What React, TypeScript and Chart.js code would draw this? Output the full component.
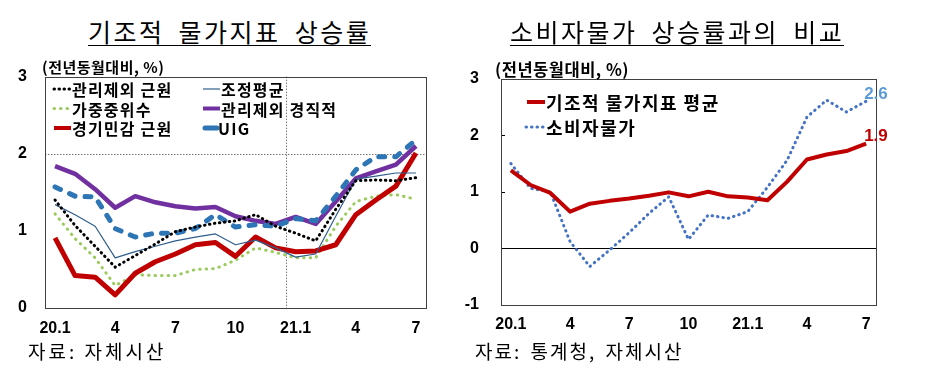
import React, { useEffect, useRef } from 'react';
import { Chart, registerables } from 'chart.js';

Chart.register(...registerables);

// ---------- data ----------
const months = ['20.1','20.2','20.3','20.4','20.5','20.6','20.7','20.8','20.9','20.10','20.11','20.12','21.1','21.2','21.3','21.4','21.5','21.6','21.7'];
const tickLabels = ['20.1','','','4','','','7','','','10','','','21.1','','','4','','','7'];

const exAdminCore = [1.40, 1.07, 0.80, 0.53, 0.68, 0.83, 0.99, 1.05, 1.10, 1.13, 1.21, 1.06, 0.97, 0.87, 1.28, 1.65, 1.66, 1.65, 1.69];
const trimmedMean = [1.34, 1.21, 1.06, 0.65, 0.73, 0.80, 0.87, 0.92, 0.96, 0.82, 0.88, 0.78, 0.66, 0.70, 1.19, 1.67, 1.71, 1.75, 1.75];
const weightedMedian = [1.22, 0.90, 0.65, 0.29, 0.43, 0.42, 0.42, 0.50, 0.51, 0.62, 0.78, 0.72, 0.65, 0.65, 1.06, 1.38, 1.45, 1.47, 1.41];
const exAdminSticky = [1.84, 1.74, 1.54, 1.30, 1.45, 1.37, 1.32, 1.29, 1.31, 1.19, 1.13, 1.09, 1.18, 1.09, 1.38, 1.68, 1.77, 1.86, 2.10];
const cyclicalCore = [0.91, 0.42, 0.40, 0.17, 0.45, 0.60, 0.70, 0.82, 0.85, 0.67, 0.92, 0.78, 0.73, 0.74, 0.82, 1.21, 1.40, 1.58, 2.01];
const uig = [1.57, 1.45, 1.44, 1.03, 0.92, 0.97, 0.97, 1.03, 1.21, 1.05, 1.08, 1.06, 1.16, 1.13, 1.45, 1.79, 1.96, 1.96, 2.18];

const coreAverage = [1.38, 1.12, 0.98, 0.65, 0.79, 0.84, 0.88, 0.93, 0.99, 0.92, 1.00, 0.92, 0.90, 0.85, 1.18, 1.57, 1.66, 1.72, 1.85];
const cpi = [1.50, 1.06, 1.00, 0.12, -0.32, -0.03, 0.28, 0.62, 0.91, 0.16, 0.59, 0.53, 0.65, 1.08, 1.56, 2.32, 2.62, 2.41, 2.60];

const leftNames = ['관리제외 근원', '조정평균', '가중중위수', '관리제외 경직적', '경기민감 근원', 'UIG'];
const rightNames = ['기조적 물가지표 평균', '소비자물가'];
const endLabels = ['1.9', '2.6'];

const leftTitle = '기조적 물가지표 상승률';
const rightTitle = '소비자물가 상승률과의 비교';
const unitLabel = '(전년동월대비, %)';
const leftSource = '자료: 자체시산';
const rightSource = '자료: 통계청, 자체시산';

// ---------- helpers ----------
const tickFont = { family: '"Liberation Sans", Arial, sans-serif', size: 16, weight: 'bold' as const };
const KR = '"Noto Sans CJK KR", "Noto Sans", sans-serif';

function drawLegend(chart: any, items: any[], font: string, spacing: string) {
  const ctx = chart.ctx;
  ctx.save();
  items.forEach((it) => {
    const ds = chart.data.datasets[it.ds];
    ctx.save();
    ctx.beginPath();
    ctx.strokeStyle = ds.borderColor;
    ctx.lineWidth = it.lw || ds.borderWidth;
    ctx.lineCap = ds.borderCapStyle || 'butt';
    ctx.setLineDash(it.dash || ds.borderDash || []);
    ctx.moveTo(it.x, it.y);
    ctx.lineTo(it.x + it.len, it.y);
    ctx.stroke();
    ctx.restore();
    ctx.save();
    ctx.fillStyle = '#000';
    ctx.font = font;
    (ctx as any).letterSpacing = spacing;
    ctx.textAlign = 'left';
    ctx.textBaseline = 'middle';
    ctx.fillText(ds.label, it.x + it.len + 1, it.y + 1);
    ctx.restore();
  });
  ctx.restore();
}

function drawFrame(chart: any, color: string) {
  const { ctx, chartArea: a } = chart;
  ctx.save();
  ctx.strokeStyle = color;
  ctx.lineWidth = 1;
  const l = Math.round(a.left) + 0.5;
  const t = Math.round(a.top) + 0.5;
  const r = Math.round(a.right) + 0.5;
  const b = Math.round(a.bottom) + 0.5;
  ctx.strokeRect(l, t, r - l, b - t);
  ctx.restore();
}

// left canvas placed at page (0, 49); right canvas at page (460, 47)
const L_TOP = 49;
const R_TOP = 47;

function LeftChart() {
  const ref = useRef<HTMLCanvasElement>(null);
  useEffect(() => {
    const refLines = {
      id: 'refLines',
      beforeDatasetsDraw(chart: any) {
        const { ctx, chartArea: a, scales } = chart;
        const y2 = Math.round(scales.y.getPixelForValue(2)) + 0.5;
        const xb = Math.round((scales.x.getPixelForValue(11) + scales.x.getPixelForValue(12)) / 2) + 0.5;
        ctx.save();
        ctx.strokeStyle = '#777';
        ctx.lineWidth = 1;
        ctx.setLineDash([1.5, 1.5]);
        ctx.beginPath();
        ctx.moveTo(a.left, y2);
        ctx.lineTo(a.right, y2);
        ctx.moveTo(xb, a.top);
        ctx.lineTo(xb, a.bottom);
        ctx.stroke();
        ctx.restore();
      },
      afterDraw(chart: any) {
        drawFrame(chart, '#404040');
        const r1 = 89 - L_TOP, r2 = 108.5 - L_TOP, r3 = 128 - L_TOP;
        drawLegend(chart, [
          { ds: 0, x: 54, y: r1, len: 17 },
          { ds: 1, x: 203, y: r1, len: 17 },
          { ds: 2, x: 54, y: r2, len: 17 },
          { ds: 3, x: 203, y: r2, len: 17, lw: 4 },
          { ds: 4, x: 54, y: r3, len: 17, lw: 4 },
          { ds: 5, x: 205, y: r3, len: 12, lw: 5, dash: [] },
        ], `bold 16px ${KR}`, '1.2px');
      },
    };
    const chart = new Chart(ref.current!, {
      type: 'line',
      data: {
        labels: months,
        datasets: [
          { label: leftNames[0], data: exAdminCore, borderColor: '#000000', borderWidth: 3, borderDash: [0.5, 4.5], borderCapStyle: 'round', order: 0 },
          { label: leftNames[1], data: trimmedMean, borderColor: '#2F5E8C', borderWidth: 1.2, order: 2 },
          { label: leftNames[2], data: weightedMedian, borderColor: '#9BCB5C', borderWidth: 3, borderDash: [0.5, 6], borderCapStyle: 'round', order: 5 },
          { label: leftNames[3], data: exAdminSticky, borderColor: '#7030A0', borderWidth: 4.5, order: 4 },
          { label: leftNames[4], data: cyclicalCore, borderColor: '#C00000', borderWidth: 5, order: 3 },
          { label: leftNames[5], data: uig, borderColor: '#2E75B6', borderWidth: 5, borderDash: [6, 10], borderCapStyle: 'round', order: 1 },
        ] as any,
      },
      options: {
        responsive: false,
        devicePixelRatio: 1,
        animation: false,
        events: [],
        elements: { point: { radius: 0 }, line: { tension: 0, borderJoinStyle: 'round' } },
        layout: { padding: { left: 0, right: 34, top: 0, bottom: 0 } },
        plugins: { legend: { display: false }, tooltip: { enabled: false } },
        scales: {
          x: {
            type: 'category',
            offset: true,
            grid: { display: false, drawTicks: false },
            border: { display: false },
            afterFit: (s: any) => { s.height = 42; },
            ticks: { autoSkip: false, maxRotation: 0, padding: 11, color: '#000', font: tickFont, callback: (_v: any, i: number) => tickLabels[i] },
          },
          y: {
            min: 0,
            max: 3,
            grid: { display: false, drawTicks: false },
            border: { display: false },
            afterFit: (s: any) => { s.width = 45; },
            ticks: { stepSize: 1, padding: 18, color: '#000', font: tickFont },
          },
        },
      } as any,
      plugins: [refLines],
    });
    return () => chart.destroy();
  }, []);
  return <canvas ref={ref} width={460} height={301} style={{ position: 'absolute', left: 0, top: L_TOP, width: 460, height: 301 }} />;
}

function RightChart() {
  const ref = useRef<HTMLCanvasElement>(null);
  useEffect(() => {
    const deco = {
      id: 'deco',
      beforeDatasetsDraw(chart: any) {
        const { ctx, chartArea: a, scales } = chart;
        const y0 = Math.round(scales.y.getPixelForValue(0)) + 0.5;
        ctx.save();
        ctx.strokeStyle = '#000';
        ctx.lineWidth = 1;
        ctx.beginPath();
        ctx.moveTo(a.left, y0);
        ctx.lineTo(a.right, y0);
        scales.y.ticks.forEach((t: any) => {
          const y = Math.round(scales.y.getPixelForValue(t.value)) + 0.5;
          ctx.moveTo(a.left, y);
          ctx.lineTo(a.left + 4, y);
        });
        ctx.stroke();
        ctx.restore();
      },
      afterDraw(chart: any) {
        drawFrame(chart, '#404040');
        drawLegend(chart, [
          { ds: 0, x: 67, y: 102 - R_TOP, len: 18 },
          { ds: 1, x: 66, y: 127 - R_TOP, len: 19 },
        ], `bold 18px ${KR}`, '1.5px');
        const ctx = chart.ctx;
        ctx.save();
        ctx.font = 'bold 17px "Liberation Sans", Arial, sans-serif';
        ctx.textAlign = 'left';
        ctx.textBaseline = 'middle';
        const colors = ['#C00000', '#5B9BD5'];
        [0, 1].forEach((d) => {
          const pts = chart.getDatasetMeta(d).data;
          const p = pts[pts.length - 1];
          ctx.fillStyle = colors[d];
          ctx.fillText(endLabels[d], p.x - 2, p.y - 7);
        });
        ctx.restore();
      },
    };
    const chart = new Chart(ref.current!, {
      type: 'line',
      data: {
        labels: months,
        datasets: [
          { label: rightNames[0], data: coreAverage, borderColor: '#C00000', borderWidth: 4, order: 0 },
          { label: rightNames[1], data: cpi, borderColor: '#4472C4', borderWidth: 3, borderDash: [0.5, 5], borderCapStyle: 'round', order: 1 },
        ] as any,
      },
      options: {
        responsive: false,
        devicePixelRatio: 1,
        animation: false,
        events: [],
        elements: { point: { radius: 0 }, line: { tension: 0, borderJoinStyle: 'round' } },
        layout: { padding: { left: 0, right: 61, top: 0, bottom: 0 } },
        plugins: { legend: { display: false }, tooltip: { enabled: false } },
        scales: {
          x: {
            type: 'category',
            offset: true,
            grid: { display: false, drawTicks: false },
            border: { display: false },
            afterFit: (s: any) => { s.height = 45; },
            ticks: { autoSkip: false, maxRotation: 0, padding: 10, color: '#000', font: tickFont, callback: (_v: any, i: number) => tickLabels[i] },
          },
          y: {
            min: -1,
            max: 3,
            grid: { display: false, drawTicks: false },
            border: { display: false },
            afterFit: (s: any) => { s.width = 41; },
            ticks: { stepSize: 1, padding: 22, color: '#000', font: tickFont },
          },
        },
      } as any,
      plugins: [deco],
    });
    return () => chart.destroy();
  }, []);
  return <canvas ref={ref} width={477} height={303} style={{ position: 'absolute', left: 460, top: R_TOP, width: 477, height: 303 }} />;
}

const titleStyle: React.CSSProperties = {
  position: 'absolute',
  top: 17,
  fontFamily: KR,
  fontSize: 25,
  lineHeight: '28px',
  letterSpacing: '2.5px',
  wordSpacing: '6px',
  borderBottom: '1.5px solid #000',
  whiteSpace: 'nowrap',
  color: '#000',
};
const unitStyle: React.CSSProperties = {
  position: 'absolute',
  fontFamily: KR,
  fontWeight: 'bold',
  whiteSpace: 'nowrap',
  color: '#000',
};
const sourceStyle: React.CSSProperties = {
  position: 'absolute',
  top: 340,
  fontFamily: KR,
  fontSize: 19,
  lineHeight: '22px',
  letterSpacing: '2px',
  whiteSpace: 'nowrap',
  color: '#000',
};

export default function App() {
  return (
    <div style={{ position: 'absolute', left: 0, top: 0, width: 937, height: 372, background: '#fff', overflow: 'hidden' }}>
      <LeftChart />
      <RightChart />
      <div style={{ ...titleStyle, left: 88 }}>{leftTitle}</div>
      <div style={{ ...titleStyle, left: 510 }}>{rightTitle}</div>
      <div style={{ ...unitStyle, left: 42, top: 58, fontSize: 15, lineHeight: '17px', letterSpacing: '0.5px' }}>{unitLabel}</div>
      <div style={{ ...unitStyle, left: 495, top: 60, fontSize: 16.5, lineHeight: '19px', letterSpacing: '0.5px' }}>{unitLabel}</div>
      <div style={{ ...sourceStyle, left: 28, letterSpacing: '3px' }}>{leftSource}</div>
      <div style={{ ...sourceStyle, left: 475, wordSpacing: '3px' }}>{rightSource}</div>
    </div>
  );
}
